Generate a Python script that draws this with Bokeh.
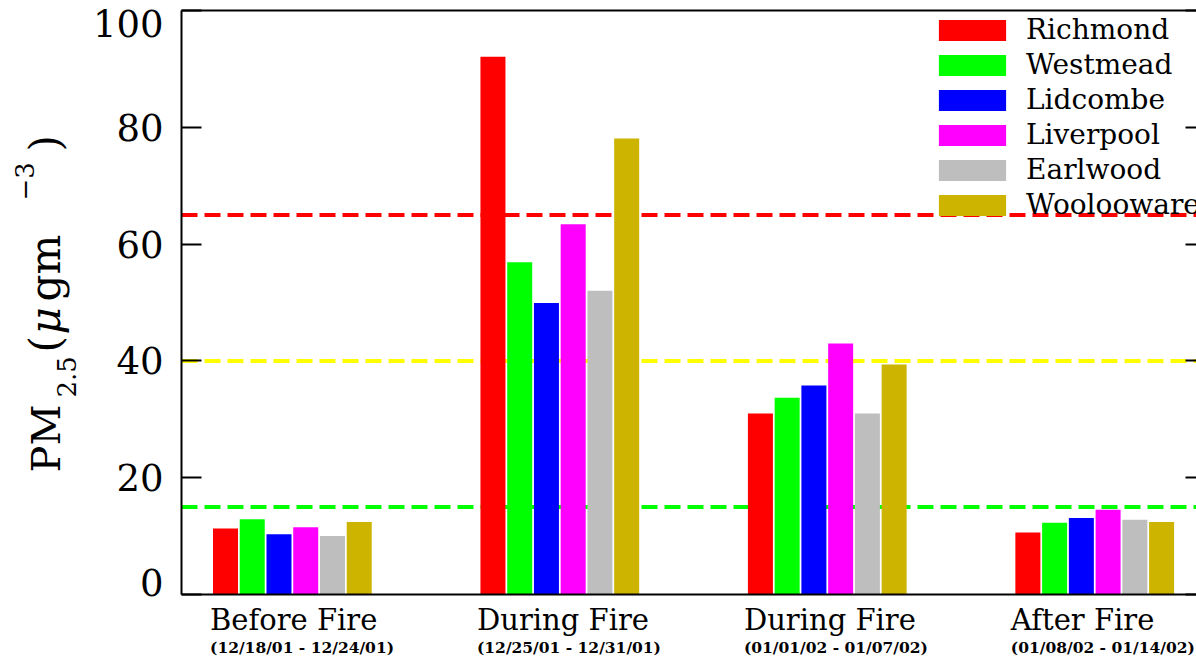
import numpy as np
from bokeh.plotting import figure
from bokeh.layouts import row, column
from bokeh.models import (ColumnDataSource, LinearAxis, FixedTicker, Span,
                          Legend, LegendItem, Range1d)
from bokeh.core.properties import value
from bokeh.embed import file_html
from bokeh.resources import INLINE

# ---- data -------------------------------------------------------------
periods = ["Before Fire", "During Fire", "During Fire", "After Fire"]
date_ranges = ["(12/18/01 - 12/24/01)", "(12/25/01 - 12/31/01)",
               "(01/01/02 - 01/07/02)", "(01/08/02 - 01/14/02)"]

sites = ["Richmond", "Westmead", "Lidcombe", "Liverpool", "Earlwood", "Woolooware"]
site_colors = ["#ff0000", "#00ff00", "#0000ff", "#ff00ff", "#bebebe", "#ccb400"]

richmond = [11.3, 92.1, 31.0, 10.6]
westmead = [12.9, 56.9, 33.7, 12.3]
lidcombe = [10.3, 49.9, 35.8, 13.1]
liverpool = [11.5, 63.4, 43.0, 14.5]
earlwood = [10.0, 52.0, 31.0, 12.8]
woolooware = [12.4, 78.1, 39.4, 12.4]
site_values = [richmond, westmead, lidcombe, liverpool, earlwood, woolooware]

# reference levels (ug/m3) drawn as dashed lines
levels = [65, 40, 15]
level_colors = ["#ff0000", "#ffff00", "#00ff00"]

y_ticks = [0, 20, 40, 60, 80, 100]

SERIF = "DejaVu Serif"

# ---- page geometry (pixels) -------------------------------------------
W, H = 1196, 661
FRAME_L, FRAME_T, FRAME_B = 181, 10, 594      # plot frame edges on the page
SIDE_W = FRAME_L - 2                           # width of the y-label strip
MAIN_H = FRAME_B + 2                           # height of the chart panel
X0, X1 = 0.5855, 4.3805                        # x extent of the plot frame
Y0, Y1 = 0, 100
px_per_x = (W - FRAME_L) / (X1 - X0)
px_per_y = (FRAME_B - FRAME_T) / (Y1 - Y0)

group_pos = np.arange(1, len(periods) + 1, dtype=float)
bar_step = 0.1
bar_width = 0.0935
label_left = group_pos - 0.315                 # left edge of the period labels


def bare(fig):
    fig.outline_line_color = None
    fig.xgrid.visible = False
    fig.ygrid.visible = False
    fig.background_fill_color = "white"
    fig.border_fill_color = "white"
    return fig


# ---- main chart -------------------------------------------------------
p = bare(figure(width=W - SIDE_W, height=MAIN_H, output_backend="svg",
                toolbar_location=None, title=None, x_range=Range1d(X0, X1),
                y_range=Range1d(Y0, Y1), x_axis_location=None,
                y_axis_location=None, min_border_left=FRAME_L - SIDE_W,
                min_border_right=0, min_border_top=FRAME_T,
                min_border_bottom=MAIN_H - FRAME_B))

# dashed reference levels sit underneath the bars
for lv, col in zip(levels, level_colors):
    p.add_layout(Span(location=lv, dimension="width", line_color=col,
                      line_width=4, line_dash="16 7", level="underlay"))

items = []
for k, (name, col, vals) in enumerate(zip(sites, site_colors, site_values)):
    xs = group_pos + (k - (len(sites) - 1) / 2) * bar_step
    src = ColumnDataSource(dict(x=xs, top=vals))
    r = p.vbar(x="x", top="top", bottom=0, width=bar_width, source=src,
               fill_color=col, line_color=None)
    items.append(LegendItem(label=name, renderers=[r]))

legend = Legend(items=items, location=(749, 373), orientation="vertical",
                glyph_width=84, glyph_height=26, label_standoff=12,
                spacing=2, padding=0, margin=0,
                label_text_font=SERIF, label_text_font_size="28px",
                label_text_color="black",
                background_fill_alpha=0, border_line_color=None)
p.add_layout(legend)


def frame_axis(ticks, tick_in):
    ax = LinearAxis(ticker=FixedTicker(ticks=ticks))
    ax.axis_line_color = "black"
    ax.axis_line_width = 2
    ax.major_tick_line_color = "black"
    ax.major_tick_line_width = 2
    ax.minor_tick_line_color = None
    ax.major_tick_in = tick_in
    ax.major_tick_out = 0
    ax.minor_tick_in = 0
    ax.minor_tick_out = 0
    ax.major_label_standoff = 0
    ax.major_label_overrides = {t: "" for t in ticks}
    return ax


p.add_layout(frame_axis(y_ticks, 20), "left")
right_ax = frame_axis(y_ticks, 11)
right_ax.axis_line_color = None
p.add_layout(right_ax, "right")
p.add_layout(frame_axis([], 0), "above")
p.add_layout(frame_axis([], 0), "below")

# ---- y tick labels and axis title (full-height strip) ------------------
side = bare(figure(width=SIDE_W, height=H, output_backend="svg",
                   toolbar_location=None, title=None,
                   x_range=Range1d(0, SIDE_W),
                   y_range=Range1d(Y0 - (H - FRAME_B) / px_per_y,
                                   Y1 + FRAME_T / px_per_y),
                   x_axis_location=None, y_axis_location=None, min_border=0))

# end labels are nudged inside the frame
tick_src = ColumnDataSource(dict(
    x=[FRAME_L - 18] * len(y_ticks), y=y_ticks,
    text=[str(t) for t in y_ticks],
    dy=[-12 if t == Y0 else (13 if t == Y1 else 0) for t in y_ticks]))
side.text(x="x", y="y", text="text", y_offset="dy", source=tick_src,
          text_align="right", text_baseline="middle",
          text_font=value(SERIF), text_font_size="37px", text_color="black")


def yv(page_y):
    return (FRAME_B - page_y) / px_per_y


# PM_2.5 (ugm^-3): baseline x, start y on the page, size, style
title_parts = [
    ("PM", 45, 472, "40px", "normal"),
    ("2.5", 66, 397, "26px", "normal"),
    ("(", 45, 352, "42px", "normal"),
    ("\u03bc", 45, 334, "42px", "italic"),
    ("gm", 45, 301, "42px", "normal"),
    ("\u22123", 24, 200, "26px", "normal"),
    (")", 45, 151, "42px", "normal"),
]
for txt, bx, by, size, style in title_parts:
    side.text(x=[bx], y=[yv(by)], text=[txt], angle=np.pi / 2,
              text_align="left", text_baseline="alphabetic",
              text_font=value(SERIF), text_font_size=size,
              text_font_style=style, text_color="black")

# ---- period labels under the chart ------------------------------------
bottom = bare(figure(width=W - SIDE_W, height=H - MAIN_H, output_backend="svg",
                     toolbar_location=None, title=None,
                     x_range=Range1d(X0 - (FRAME_L - SIDE_W) / px_per_x, X1),
                     y_range=Range1d(H, MAIN_H),
                     x_axis_location=None, y_axis_location=None, min_border=0))

bottom.text(x=list(label_left), y=[619] * len(periods), text=periods,
            text_align="left", text_baseline="alphabetic",
            text_font=value(SERIF), text_font_size="29px", text_color="black")
bottom.text(x=list(label_left), y=[647] * len(date_ranges), text=date_ranges,
            text_align="left", text_baseline="alphabetic",
            text_font=value(SERIF), text_font_style="bold",
            text_font_size="15.5px", text_color="black")

layout = row(side, column(p, bottom, spacing=0), spacing=0)

open("out.html", "w").write(file_html(layout, INLINE))
